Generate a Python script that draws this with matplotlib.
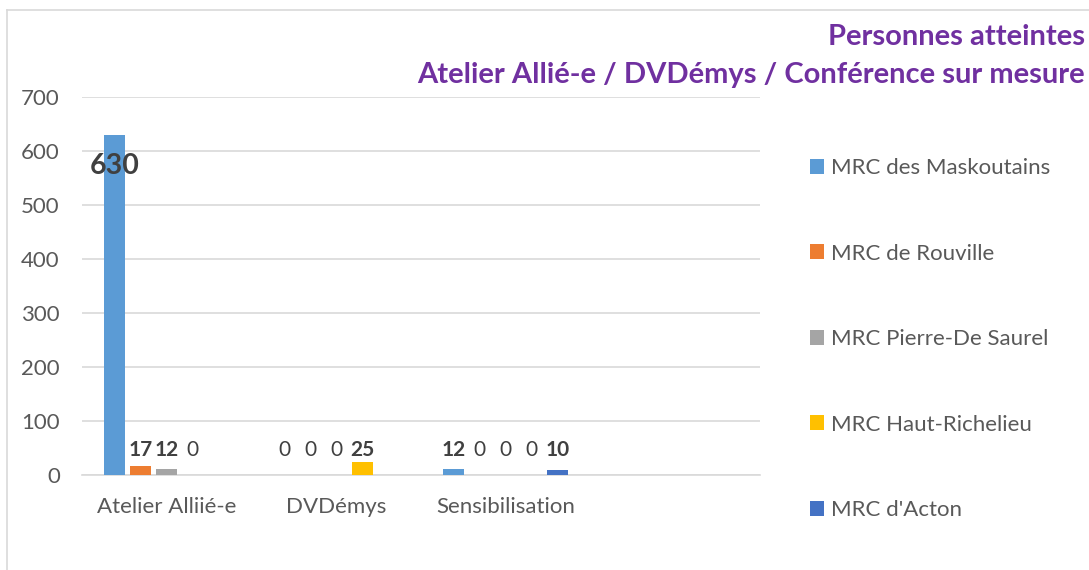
import numpy as np
import matplotlib
matplotlib.use("Agg")
import matplotlib.pyplot as plt
from matplotlib.patches import Patch
from matplotlib.lines import Line2D

plt.rcParams['font.family'] = ['Lato', 'DejaVu Sans']

# data
categories = ["Atelier Alliié-e", "DVDémys", "Sensibilisation", ""]
series = ["MRC des Maskoutains", "MRC de Rouville", "MRC Pierre-De Saurel",
          "MRC Haut-Richelieu", "MRC d'Acton"]
values = [
    [630, 0, 12, np.nan],     # Maskoutains
    [17, 0, 0, np.nan],       # Rouville
    [12, 0, 0, np.nan],       # Pierre-De Saurel
    [0, 25, 0, np.nan],       # Haut-Richelieu
    [np.nan, np.nan, 10, np.nan],  # Acton
]
colors = ["#5B9BD5", "#ED7D31", "#A5A5A5", "#FFC000", "#4472C4"]
yticks = [0, 100, 200, 300, 400, 500, 600, 700]

fig = plt.figure(figsize=(10.89, 5.7), dpi=100)
ax = fig.add_axes([82/1089, 1-475/570, (760-82)/1089, (475-97)/570])

x = np.arange(len(categories))
pitch = 0.1534
width = 0.124
grey_txt = "#595959"
lab_txt = "#404040"

for i, (name, vals, c) in enumerate(zip(series, values, colors)):
    pos = x + (i - 2) * pitch
    v = np.array(vals, dtype=float)
    ax.bar(pos, np.nan_to_num(v), width, color=c, label=name, zorder=3)
    for p, val in zip(pos, v):
        if np.isnan(val):
            continue
        if val > 300:
            ax.text(p, val - 58, f"{int(val)}", ha="center", va="center",
                    fontsize=20.5, fontweight="bold", color=lab_txt, zorder=4)
        else:
            ax.text(p, 46, f"{int(val)}", ha="center", va="center",
                    fontsize=15, fontweight="bold" if val > 0 else "normal",
                    color=lab_txt, zorder=4)

ax.set_xlim(-0.5, 3.5)
ax.set_ylim(0, 700)
ax.set_yticks(yticks)
ax.set_xticks(x)
ax.set_xticklabels(categories)
ax.yaxis.grid(True, color="#D9D9D9", linewidth=1.2, zorder=0)
ax.tick_params(length=0, labelsize=16, colors=grey_txt)
ax.tick_params(axis="y", pad=16)
ax.tick_params(axis="x", pad=16)
for s in ["top", "right", "left"]:
    ax.spines[s].set_visible(False)
ax.spines["bottom"].set_color("#D9D9D9")
ax.spines["bottom"].set_linewidth(1.2)

# title
fig.text(1085/1089, 1-37/570, "Personnes atteintes", ha="right", va="center",
         fontsize=21, fontweight="bold", color="#7030A0")
fig.text(1085/1089, 1-75/570, "Atelier Allié-e / DVDémys / Conférence sur mesure",
         ha="right", va="center", fontsize=21, fontweight="bold", color="#7030A0")

# legend
handles = [Patch(facecolor=c, edgecolor="none") for c in colors]
fig.legend(handles, series, loc="upper left", bbox_to_anchor=(790/1089, 1-138/570),
           frameon=False, fontsize=16, labelspacing=2.95, handlelength=0.65,
           handleheight=0.65, handletextpad=0.3, labelcolor=grey_txt)

# chart border
fig.add_artist(Line2D([7/1089, 7/1089], [0, 1-10/570], color="#D9D9D9", lw=1.2))
fig.add_artist(Line2D([7/1089, 1], [1-10/570, 1-10/570], color="#D9D9D9", lw=1.2))

fig.savefig("out.png", dpi=100)
